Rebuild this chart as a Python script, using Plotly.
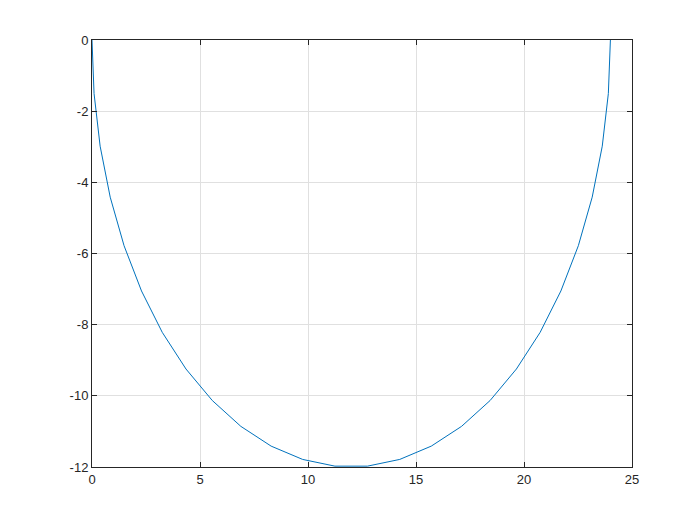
import plotly.graph_objects as go

# Points
x_vals = [0.0, 0.095, 0.377, 0.843, 1.484, 2.292, 3.252, 4.351, 5.570, 6.891, 8.292,
          9.751, 11.247, 12.753, 14.249, 15.708, 17.109, 18.430, 19.649, 20.748,
          21.708, 22.516, 23.157, 23.623, 23.905, 24.0]
y_vals = [0.0, -1.504, -2.984, -4.417, -5.781, -7.053, -8.215, -9.246, -10.132, -10.858,
          -11.413, -11.787, -11.976, -11.976, -11.787, -11.413, -10.858, -10.132, -9.246,
          -8.215, -7.053, -5.781, -4.417, -2.984, -1.504, 0.0]

x_ticks = [0, 5, 10, 15, 20, 25]
x_tick_labels = ["0", "5", "10", "15", "20", "25"]
y_ticks = [-12, -10, -8, -6, -4, -2, 0]
y_tick_labels = ["-12", "-10", "-8", "-6", "-4", "-2", "0"]

fig = go.Figure()
fig.add_trace(go.Scatter(x=x_vals, y=y_vals, mode="lines",
                         line=dict(color="#0072BD", width=1), showlegend=False))

axis_common = dict(
    showgrid=True, gridcolor="#e0e0e0", gridwidth=1,
    showline=True, linecolor="#262626", linewidth=1, mirror="allticks",
    ticks="inside", ticklen=5, tickcolor="#262626",
    zeroline=False, tickfont=dict(family="Liberation Sans, Arial", size=13, color="#262626"),
)

fig.update_layout(
    width=700, height=525,
    margin=dict(l=84, r=76, t=32, b=66),
    paper_bgcolor="white", plot_bgcolor="white",
    xaxis=dict(range=[0, 25], tickvals=x_ticks, ticktext=x_tick_labels, **axis_common),
    yaxis=dict(range=[-12, 0], tickvals=y_ticks, ticktext=y_tick_labels, **axis_common),
)

fig.write_html("out.html")
